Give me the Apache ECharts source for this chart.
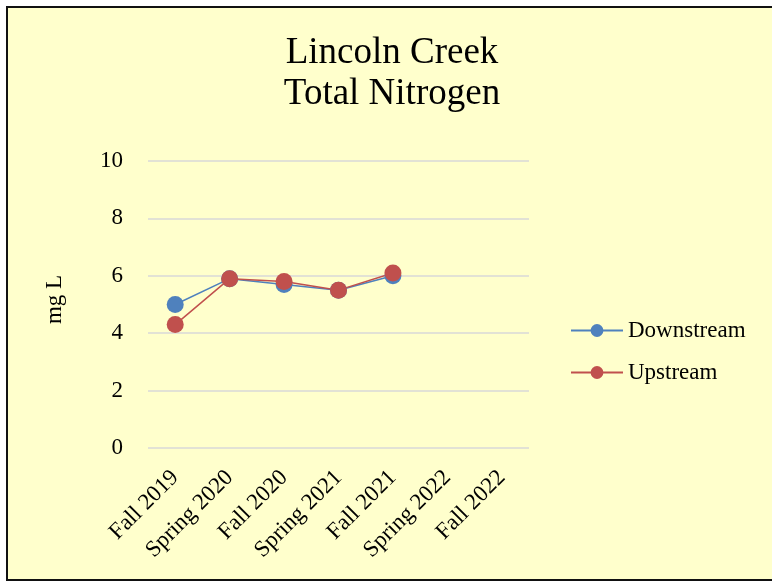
<!DOCTYPE html>
<html>
<head>
<meta charset="utf-8">
<script src="https://cdn.jsdelivr.net/npm/echarts@6/dist/echarts.min.js"></script>
<style>
  html, body { margin: 0; padding: 0; background: #fff; }
  #chart { width: 772px; height: 582px; }
</style>
</head>
<body>
<div id="chart"></div>
<script>
const seasons = ['Fall 2019', 'Spring 2020', 'Fall 2020', 'Spring 2021', 'Fall 2021', 'Spring 2022', 'Fall 2022']
const downstream = [5.0, 5.9, 5.7, 5.5, 6.0, null, null]
const upstream = [4.3, 5.9, 5.8, 5.5, 6.1, null, null]

const serif = '"Liberation Serif", "Times New Roman", serif'

const chart = echarts.init(document.getElementById('chart'))

chart.setOption({
    backgroundColor: '#fff',
    textStyle: { fontFamily: serif, color: '#000' },
    graphic: [
        {
            type: 'rect',
            z: -10,
            silent: true,
            shape: { x: 7, y: 7, width: 800, height: 573 },
            style: { fill: '#FFFFCC', stroke: '#111', lineWidth: 2 },
        },
    ],
    title: {
        text: 'Lincoln Creek\nTotal Nitrogen',
        left: 387,
        textAlign: 'center',
        top: 28,
        textStyle: {
            fontFamily: serif,
            fontWeight: 'normal',
            fontSize: 37,
            lineHeight: 41,
            color: '#000',
        },
    },
    legend: {
        orient: 'vertical',
        left: 565,
        top: 314,
        itemWidth: 52,
        itemHeight: 16,
        itemGap: 19,
        textStyle: { fontFamily: serif, fontSize: 23, color: '#000' },
        data: ['Downstream', 'Upstream'],
    },
    grid: {
        left: 148,
        right: 243,
        top: 161,
        bottom: 134,
    },
    xAxis: {
        type: 'category',
        data: seasons,
        boundaryGap: true,
        axisLine: { show: false },
        axisTick: { show: false },
        axisLabel: {
            rotate: 45,
            margin: 26,
            interval: 0,
            fontFamily: serif,
            fontSize: 23,
            color: '#000',
        },
    },
    yAxis: {
        type: 'value',
        min: 0,
        max: 10,
        interval: 2,
        name: 'mg L',
        nameLocation: 'middle',
        nameGap: 82,
        nameTextStyle: { fontFamily: serif, fontSize: 23, color: '#000', padding: [0, 0, 0, 10] },
        axisLine: { show: false },
        axisTick: { show: false },
        axisLabel: { margin: 25, fontFamily: serif, fontSize: 23, color: '#000' },
        splitLine: { lineStyle: { color: '#D9D9D9', width: 1.5 } },
    },
    series: [
        {
            name: 'Downstream',
            type: 'line',
            data: downstream,
            symbol: 'circle',
            symbolSize: 17,
            color: '#4F81BD',
            lineStyle: { width: 1.5, color: '#4F81BD' },
            itemStyle: { color: '#4F81BD' },
        },
        {
            name: 'Upstream',
            type: 'line',
            data: upstream,
            symbol: 'circle',
            symbolSize: 17,
            color: '#C0504D',
            lineStyle: { width: 1.5, color: '#C0504D' },
            itemStyle: { color: '#C0504D' },
        },
    ],
})
</script>
</body>
</html>
